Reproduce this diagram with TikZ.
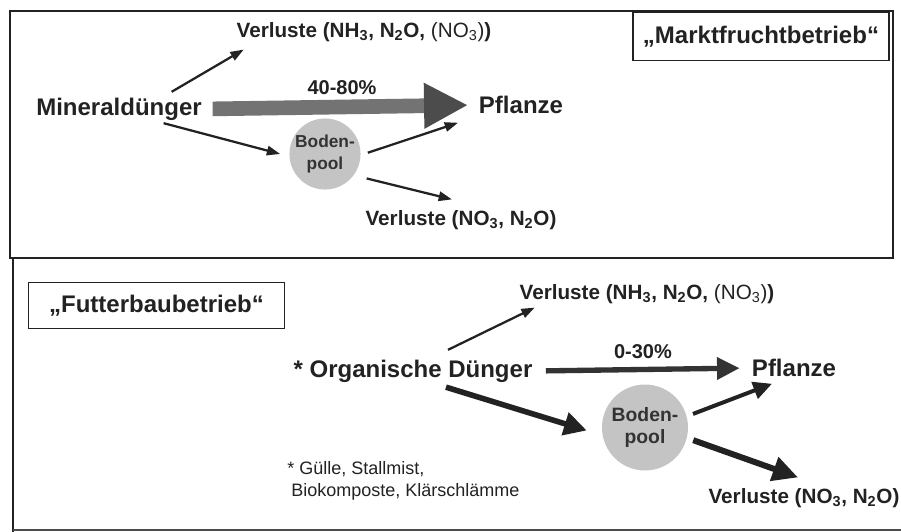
\documentclass[tikz,border=0pt]{standalone}
\usepackage{fontspec}
\setmainfont{Liberation Sans}
\usepackage{xcolor}
\usepackage{tikz}
\usetikzlibrary{arrows.meta,calc}

\definecolor{ink}{RGB}{34,34,34}
\definecolor{poolgray}{RGB}{196,196,196}

\begin{document}
\begin{tikzpicture}[x=0.75pt,y=0.75pt,yscale=-1,xscale=1,
  word/.style={text=ink,font=\bfseries\fontsize{18}{21}\selectfont,inner sep=2pt},
  loss/.style={text=ink,font=\bfseries\fontsize{15.5}{18}\selectfont,inner sep=2pt},
  share/.style={text=ink,font=\bfseries\fontsize{15}{18}\selectfont,inner sep=2pt},
  farmtag/.style={draw=ink,line width=0.9pt,text=ink,font=\bfseries\fontsize{18}{21}\selectfont},
  pool/.style={circle,fill=poolgray,text=black!80,align=center,inner sep=0pt},
  thinarr/.style={draw=ink,line width=1.7pt,-{Triangle[length=10pt,width=7pt]}},
]
\useasboundingbox (0,0) rectangle (901,532);

%Frame
\draw [color=ink,line width=1.5pt] (10,11) rectangle (893,258) ;
\draw [color=ink,line width=1.5pt] (13,258) -- (13,532) ;
\draw [color=black!70,line width=1.2pt] (13,530) -- (901,530) ;

% Text Node
\node [word] (md) at (119,109) {Mineraldünger};
% Text Node
\node [loss] (vlo) at (364,32) {Verluste (NH\textsubscript{3}, N\textsubscript{2}O, {\mdseries(NO\textsubscript{3})})};
% Text Node
\node [share] (pa) at (342,88) {40-80\%};
% Text Node
\node [word] (pfa) at (521,105) {Pflanze};
% Text Node
\node [loss] (vla) at (461,220) {Verluste (NO\textsubscript{3}, N\textsubscript{2}O)};
% Text Node
\node [pool,minimum size=48pt,font=\bfseries\fontsize{13}{17}\selectfont] (bpa) at (325,154) {Boden-\\pool};
% Text Node
\node [farmtag,minimum width=192pt,minimum height=36.5pt] (mf) at (761,36.5) {„Marktfruchtbetrieb“};

%Straight Lines
\draw [thinarr] ($(md.north east)+(-33,-3)$) -- ($(vlo.south west)+(10,5)$) ;
\draw [thinarr] ($(md.south east)+(-41,0)$) -- ($(bpa.west)+(-9,0)$) ;
\draw [thinarr] (bpa.2) ++(7,0) -- ($(pfa.south west)+(-18,6)$) ;
\draw [thinarr] ($(bpa.-31)+(11,6)$) -- ($(vla.north)+(-9,-8)$) ;
\draw [draw=black!55,line width=11pt,shorten <=6pt,shorten >=6pt,-{Triangle[length=33pt,width=32pt,fill=black!70,color=black!70]}] (md.east) -- (pfa.west) ;

% Text Node
\node [farmtag,minimum width=192.5pt,minimum height=35pt] (fb) at (156.5,305.5) {„Futterbaubetrieb“};
% Text Node
\node [loss] (vlb) at (647,294) {Verluste (NH\textsubscript{3}, N\textsubscript{2}O, {\mdseries(NO\textsubscript{3})})};
% Text Node
\node [word] (og) at (413,371) {* Organische Dünger};
% Text Node
\node [share] (pb) at (643,352) {0-30\%};
% Text Node
\node [word] (pfb) at (794,368) {Pflanze};
% Text Node
\node [pool,minimum size=64.5pt,font=\bfseries\fontsize{14.5}{16.5}\selectfont] (bpb) at (645,427.5) {Boden-\\pool};
% Text Node
\node [loss] (vlc) at (804,498) {Verluste (NO\textsubscript{3}, N\textsubscript{2}O)};
% Text Node
\node [text=ink,font=\fontsize{13.5}{17}\selectfont,align=left,anchor=west,inner sep=0pt] (note) at (287,481) {* Gülle, Stallmist,\\\hspace{3pt}Biokomposte, Klärschlämme};

%Straight Lines
\draw [thinarr] ($(og.north)+(35,-7)$) -- ($(vlb.south west)+(18,1)$) ;
\draw [draw=ink,line width=4.2pt,-{Triangle[length=17pt,width=17pt]}] ($(og.south)+(33,2)$) -- ($(bpb.west)+(-15,3)$) ;
\draw [draw=black!80,line width=4pt,shorten <=8pt,shorten >=7pt,-{Triangle[length=17pt,width=16pt]}] (og.east) -- (pfb.west) ;
\draw [draw=ink,line width=3pt,shorten <=5pt,-{Triangle[length=14pt,width=13pt]}] (bpb.15) -- ($(pfb.south)+(-22,4)$) ;
\draw [draw=ink,line width=4.5pt,shorten <=5pt,-{Triangle[length=19pt,width=18pt]}] (bpb.-14) -- ($(vlc.north)+(-6,-8)$) ;

\end{tikzpicture}
\end{document}
